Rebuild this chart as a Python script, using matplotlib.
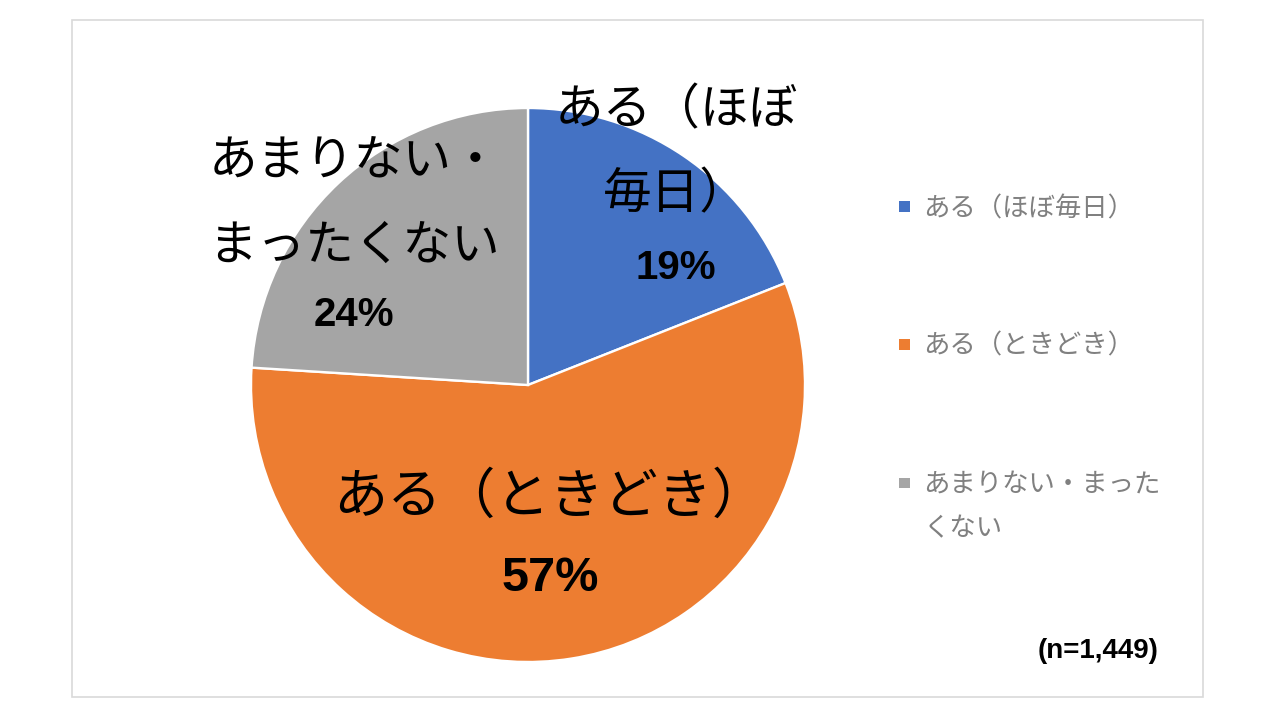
import matplotlib
matplotlib.use("Agg")
import matplotlib.pyplot as plt
from matplotlib.patches import Rectangle, Patch
from matplotlib.legend_handler import HandlerPatch

# data
categories = ["ある（ほぼ毎日）", "ある（ときどき）", "あまりない・まったくない"]
shares = [19, 57, 24]
slice_labels = ["ある（ほぼ\n毎日）", "ある（ときどき）", "あまりない・\nまったくない"]
legend_labels = ["ある（ほぼ毎日）", "ある（ときどき）", "あまりない・まった\nくない"]
sample_note = "(n=1,449)"

# style / layout
colors = ["#4472C4", "#ED7D31", "#A5A5A5"]
JP = ["Noto Sans CJK JP", "DejaVu Sans"]
label_xy = [(0.534, 0.422), (0.079, -0.697), (-0.628, 0.253)]  # pct centre, pie radius units
name_size = [35, 39, 35]
pct_size = [29, 35, 29]
name_gap = [35, 38, 32]

W, H = 1280, 720
fig = plt.figure(figsize=(W / 100, H / 100), dpi=100)
fig.patch.set_facecolor("white")

# outer chart frame
fig.patches.append(Rectangle((72 / W, 23 / H), (1203 - 72) / W, 677 / H,
                             transform=fig.transFigure, fill=False,
                             edgecolor="#d9d9d9", lw=1.2))

ax = fig.add_axes([251 / W, 58 / H, 554 / W, 554 / H])
wedges, _ = ax.pie(shares, colors=colors, startangle=90, counterclock=False,
                   wedgeprops=dict(edgecolor="white", linewidth=1.7))
ax.set_xlim(-1, 1)
ax.set_ylim(-1, 1)
ax.set_aspect("equal")

for i, (x, y) in enumerate(label_xy):
    ax.text(x, y, f"{shares[i]}%", ha="center", va="center",
            fontsize=pct_size[i], fontweight="bold", family="Liberation Sans")
    ax.annotate(slice_labels[i], xy=(x, y), xytext=(0, name_gap[i]),
                textcoords="offset points", ha="center", va="bottom",
                multialignment="center", fontsize=name_size[i], family=JP,
                linespacing=1.9)

fig.text(1098 / W, (H - 651) / H, sample_note, ha="center", va="center",
         fontsize=20, fontweight="bold", family="Liberation Sans")


def square(legend, orig_handle, xdescent, ydescent, width, height, fontsize, lift=0):
    side = 0.4 * fontsize
    return Rectangle((-xdescent + (width - side) / 2,
                      -ydescent + (height - side) / 2 + lift), side, side)


def square_lifted(legend, orig_handle, xdescent, ydescent, width, height, fontsize):
    # wrapped label: keep the marker on the first line
    return square(legend, orig_handle, xdescent, ydescent, width, height, fontsize, lift=18)


handles = [Patch(facecolor=c, edgecolor="none") for c in colors]
handler_map = {handles[0]: HandlerPatch(patch_func=square),
               handles[1]: HandlerPatch(patch_func=square),
               handles[2]: HandlerPatch(patch_func=square_lifted)}

leg = fig.legend(handles, legend_labels, loc="upper left",
                 bbox_to_anchor=(898 / W, 0.729), frameon=False,
                 prop={"family": JP, "size": 19}, labelcolor="#808080",
                 labelspacing=4.2, handlelength=0.5, handleheight=0.5,
                 handletextpad=0.45, borderpad=0, borderaxespad=0,
                 handler_map=handler_map)
leg.get_texts()[2].set_linespacing(1.85)

fig.savefig("out.png", dpi=100)
